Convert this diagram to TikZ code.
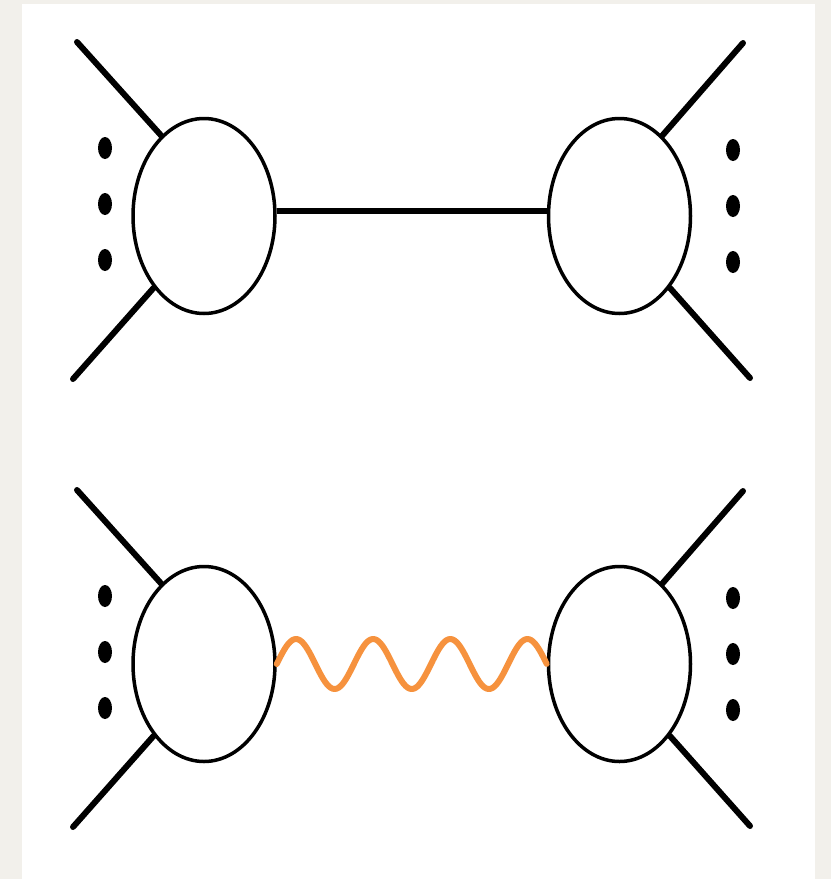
\documentclass[tikz,border=0pt]{standalone}
\usetikzlibrary{shapes.geometric, calc}
\definecolor{paper}{RGB}{242,240,235}
\definecolor{photonorange}{RGB}{246,146,62}

\begin{document}
\begin{tikzpicture}[x=1pt, y=-1pt,
    blob/.style={draw=black, ellipse, line width=3.5pt, fill=white, minimum width=142pt, minimum height=195pt, inner sep=0pt},
    leg/.style={line width=6pt, line cap=round},
    dot/.style={fill=black},
    photon/.style={line width=6pt, color=photonorange, line cap=round, line join=round}]
        % page and card
        \fill[paper] (0,0) rectangle (831,879);
        \fill[white] (22,4) rectangle (815,879);
        \useasboundingbox (0,0) rectangle (831,879);

        % upper diagram: straight propagator
        \node[blob] (lt) at (204,216) {};
        \node[blob] (rt) at (619.5,216) {};
        \coordinate (lt1) at (77,42);
        \coordinate (lt2) at (73,379);
        \coordinate (rt1) at (743,43);
        \coordinate (rt2) at (750,378);
        \draw[leg] (lt.118) -- (lt1);
        \draw[leg] (lt.235) -- (lt2);
        \draw[leg] (rt.62) -- (rt1);
        \draw[leg] (rt.305) -- (rt2);
        \draw[leg, line cap=butt] (lt.4) -- (rt.176);
        \foreach \y in {148, 204, 260} {
            \fill[dot] (105,\y) ellipse [x radius=7, y radius=11];
            \fill[dot] (733,\y+2) ellipse [x radius=7, y radius=11];
        }

        % lower diagram: photon propagator
        \node[blob] (lb) at (204,664) {};
        \node[blob] (rb) at (619.5,664) {};
        \coordinate (lb1) at (77,490);
        \coordinate (lb2) at (73,827);
        \coordinate (rb1) at (743,491);
        \coordinate (rb2) at (750,826);
        \draw[leg] (lb.118) -- (lb1);
        \draw[leg] (lb.235) -- (lb2);
        \draw[leg] (rb.62) -- (rb1);
        \draw[leg] (rb.305) -- (rb2);
        \draw[photon] let \p1=(lb.east), \p2=(rb.west) in
            plot[variable=\t, domain=0:1, samples=141, smooth]
            ({\x1+\t*(\x2-\x1)}, {\y1+25pt*sin(1260*\t)});
        \foreach \y in {596, 652, 708} {
            \fill[dot] (105,\y) ellipse [x radius=7, y radius=11];
            \fill[dot] (733,\y+2) ellipse [x radius=7, y radius=11];
        }
\end{tikzpicture}
\end{document}
